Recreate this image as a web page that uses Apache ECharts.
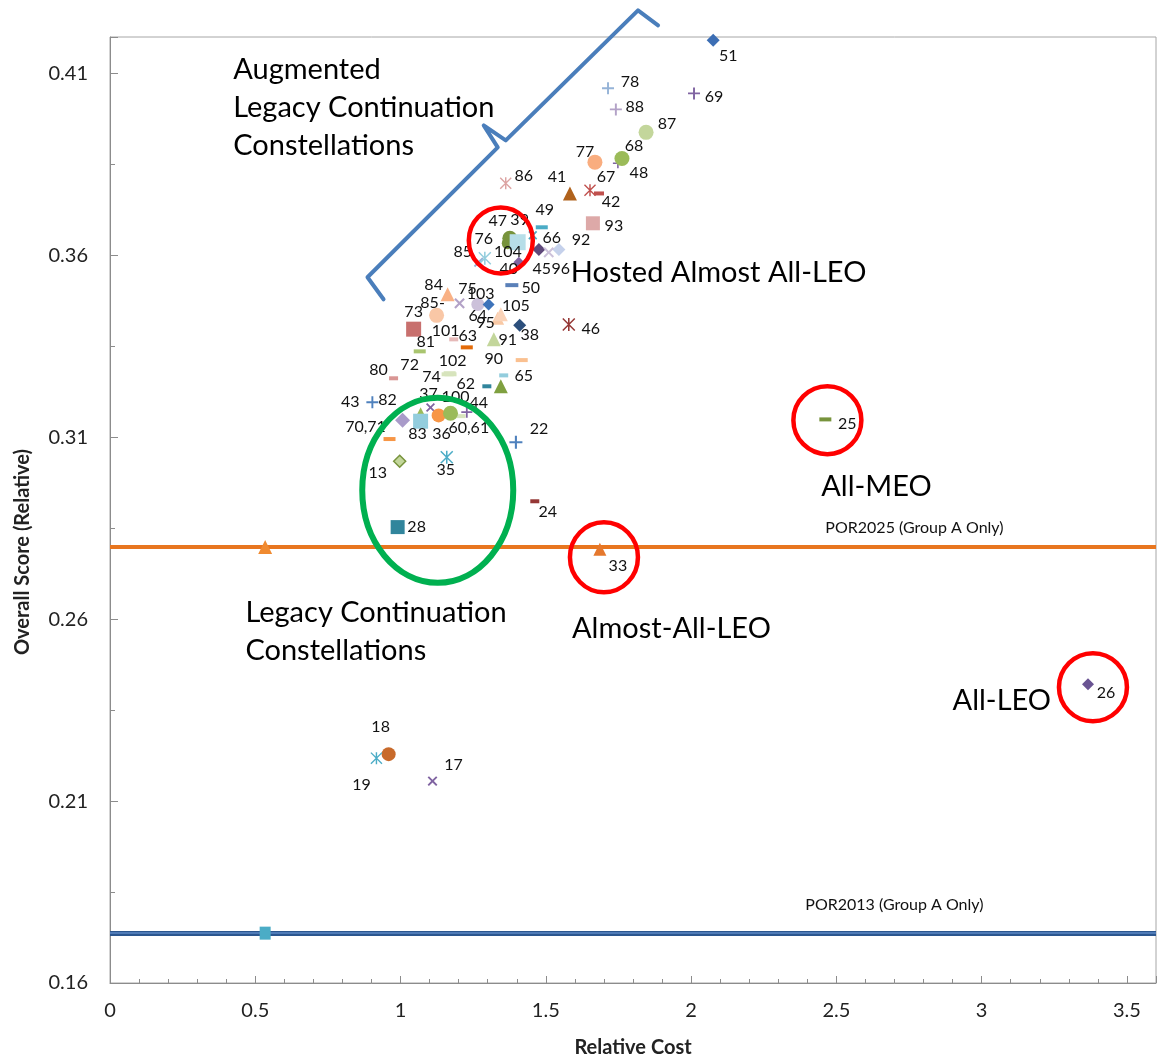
<!DOCTYPE html>
<html><head><meta charset="utf-8">
<script src="https://cdn.jsdelivr.net/npm/echarts@6/dist/echarts.min.js"></script>
<style>html,body{margin:0;padding:0;background:#fff}#c{width:1159px;height:1063px}</style>
</head><body><div id="c"></div>
<script>
// ---------------- DATA ----------------
const ids   = ['76','95','72','74','','','51','78','69','88','87','48','68','77','86','41','67','42','93','49','66','47','39','45','92','96','40','104','85','50','84','75','64','103','85-','73','105','38','101','63','91','81','46','90','80','102','65','62','44','43','82','37','83','36','100','60,61','70,71','22','13','35','24','28','25','33','26','18','19','17'];
const cost  = [1.369,1.334,1.162,1.172,1.069,1.203,2.076,1.714,2.010,1.741,1.845,1.748,1.762,1.669,1.362,1.583,1.652,1.683,1.662,1.486,1.455,1.376,1.403,1.476,1.545,1.510,1.269,1.407,1.290,1.383,1.162,1.203,1.266,1.303,1.124,1.045,1.345,1.410,1.183,1.228,1.321,1.066,1.579,1.417,0.976,1.169,1.355,1.297,1.345,0.903,1.007,1.103,1.069,1.131,1.172,1.228,0.962,1.397,0.997,1.159,1.462,0.990,2.462,1.686,3.366,0.959,0.917,1.110];
const score = [0.3633,0.3427,0.3273,0.3273,0.3169,0.3158,0.4191,0.4059,0.4045,0.4001,0.3938,0.3853,0.3866,0.3856,0.3798,0.3770,0.3779,0.3770,0.3688,0.3677,0.3655,0.3647,0.3636,0.3616,0.3616,0.3608,0.3581,0.3581,0.3592,0.3518,0.3493,0.3468,0.3465,0.3465,0.3435,0.3397,0.3438,0.3408,0.3369,0.3347,0.3369,0.3336,0.3410,0.3312,0.3262,0.3276,0.3270,0.3240,0.3240,0.3196,0.3147,0.3182,0.3144,0.3160,0.3166,0.3169,0.3095,0.3086,0.3034,0.3045,0.2924,0.2853,0.3149,0.2792,0.2421,0.2229,0.2218,0.2155];
const porNames = ['POR2025 (Group A Only)','POR2013 (Group A Only)'];
const porCost  = [0.534, 0.534];
const porScore = [0.2798, 0.1737];
const xTickLabels = ['0','0.5','1','1.5','2','2.5','3','3.5'];
const yTickLabels = ['0.16','0.21','0.26','0.31','0.36','0.41'];

// ---------------- STYLE (marker shape, colour, size, label offset) ----------------
const SYM = {
  plus: 'path://M4.2,0H5.8V4.2H10V5.8H5.8V10H4.2V5.8H0V4.2H4.2Z',
  ast: 'path://M4.4,0H5.6V10H4.4Z M0,0.8L0.8,0L10,9.2L9.2,10Z M10,0.8L0.8,10L0,9.2L9.2,0Z'
};
const mk = {
 '76':['circle','#77933C',12,[-24,-4]], '95':['triangle','#F9C9A5',13,[-12,5]],
 '72':['dash','#D7E4BD',12,[-38,-9]], '74':['dash','#D7E4BD',12,[-19,3]],
 '51':['diamond','#3C6EB4',13,[15,16]], '78':['plus','#95B3D7',12,[22,-6]],
 '69':['plus','#8064A2',12,[20,3]], '88':['plus','#B3A2C7',12,[19,-3]],
 '87':['circle','#C3D69B',15,[21,-8]], '48':['plus','#8064A2',10,[21,10]],
 '68':['circle','#9BBB59',15,[12,-13]], '77':['circle','#F9AD7F',15,[-10,-10]],
 '86':['ast','#DCA3A2',12,[18,-7]], '41':['triangle','#B0621C',14,[-13,-17]],
 '67':['ast','#C0504D',12,[16,-13]], '42':['dash','#C0504D',10,[12,8]],
 '93':['rect','#DDA9A8',14,[21,3]], '49':['dash','#4BACC6',12,[3,-17]],
 '66':['x','#4BACC6',11,[19,3]], '47':['circle','#77933C',15,[-12,-17]],
 '39':['rect','#B7DEE8',16,[2,-22]], '45':['diamond','#5F497A',13,[3,19]],
 '92':['diamond','#C5D1EB',13,[22,-10]], '96':['x','#CCC1DA',13,[12,16]],
 '40':['x','#95B3D7',12,[30,7]], '104':['diamond','#8064A2',11,[-11,-10]],
 '85':['ast','#93CDDD',13,[-22,-6]], '50':['dash','#5A80B8',13,[19,3]],
 '84':['triangle','#F9B185',14,[-14,-9]], '75':['x','#B3A2C7',13,[8,-14]],
 '64':['circle','#CCC1DA',13,[0,11]], '103':['diamond','#3D73BA',12,[-8,-11]],
 '85-':['circle','#F9C7A6',15,[-4,-12]], '73':['rect','#C8706E',15,[0,-17]],
 '105':['triangle','#FAD3B8',14,[15,-8]], '38':['diamond','#2C4F7C',13,[10,10]],
 '101':['dash','#E6B9B8',9,[-8,-9]], '63':['dash','#E46C0A',12,[1,-12]],
 '91':['triangle','#C3D69B',14,[14,0]], '81':['dash','#A9C56F',12,[6,-10]],
 '46':['ast','#953735',13,[22,4]], '90':['dash','#FAC090',12,[-28,-1]],
 '80':['dash','#D99694',9,[-15,-8]], '102':['dash','#D7E4BD',12,[3,-12]],
 '65':['dash','#93CDDD',9,[20,0]], '62':['dash','#31859C',9,[-21,-2]],
 '44':['triangle','#7FA040',14,[-22,17]], '43':['plus','#4F81BD',12,[-22,0]],
 '82':['diamond','#A99BC9',15,[-15,-20]], '37':['x','#8064A2',11,[-2,-14]],
 '83':['rect','#93CDDD',15,[-3,13]], '36':['circle','#F79646',14,[3,18]],
 '100':['circle','#9BBB59',15,[5,-16]], '60,61':['plus','#8064A2',11,[2,16]],
 '70,71':['dash','#F79646',12,[-24,-12]], '22':['plus','#4F81BD',13,[23,-13]],
 '13':['diamond','#C3D69B',12,[-22,12],'#77933C'], '35':['ast','#4BACC6',13,[-1,13]],
 '24':['dash','#953735',9,[13,11]], '28':['rect','#31859C',14,[19,0]],
 '25':['dash','#77933C',12,[22,4]], '33':['triangle','#E5782D',13,[18,17]],
 '26':['diamond','#6A5493',12,[18,9]], '18':['circle','#C86A2B',14,[-8,-27]],
 '19':['ast','#4BACC6',12,[-15,27]], '17':['x','#8064A2',12,[21,-16]]
};
const unlabeled = [['triangle','#9BBB59',10],['dash','#D7E4BD',12]];

const FONT = 'Lato, "Open Sans", sans-serif';
let blank = 0;
const points = ids.map((id, i) => {
  let s = mk[id];
  if (id === '') { s = unlabeled[blank++].concat([[0,0]]); }
  const [shape, color, size, off, border] = s;
  let symbol = shape, symbolSize = size, rot = 0;
  if (shape === 'plus') symbol = SYM.plus;
  if (shape === 'x') { symbol = SYM.plus; rot = 45; }
  if (shape === 'ast') symbol = SYM.ast;
  if (shape === 'dash') { symbol = 'rect'; symbolSize = [size, 4]; }
  return {
    name: id, value: [cost[i], score[i]], symbol, symbolSize, symbolRotate: rot,
    itemStyle: { color, opacity: 1, borderColor: border || color, borderWidth: border ? 1.5 : 0 },
    label: { show: id !== '', offset: off }
  };
});

const axisGrey = '#8C8C8C';
const option = {
  animation: false,
  backgroundColor: '#fff',
  grid: { left: 110, right: 2, top: 37, bottom: 80, show: true, borderColor: '#A6A6A6', borderWidth: 1 },
  xAxis: [
    { type: 'value', min: 0, max: 3.6, interval: 0.5, position: 'bottom',
      axisLine: { lineStyle: { color: axisGrey } },
      axisTick: { inside: true, length: 7, lineStyle: { color: axisGrey } },
      splitLine: { show: false },
      axisLabel: { margin: 18, color: '#222', fontSize: 20, fontFamily: FONT,
        formatter: v => { const s = String(+v.toFixed(2)); return xTickLabels.includes(s) ? s : ''; } },
      name: 'Relative Cost', nameLocation: 'middle', nameGap: 55,
      nameTextStyle: { fontSize: 20, fontWeight: 'bold', color: '#222', fontFamily: FONT } },
    { type: 'value', min: 0, max: 3.6, interval: 0.1, position: 'bottom', offset: 0,
      axisLine: { show: false }, axisLabel: { show: false }, splitLine: { show: false },
      axisTick: { inside: true, length: 4, lineStyle: { color: axisGrey } } }
  ],
  yAxis: [
    { type: 'value', min: 0.16, max: 0.42, interval: 0.05, position: 'left',
      axisLine: { show: true, lineStyle: { color: axisGrey } },
      axisTick: { show: true, inside: true, length: 8, lineStyle: { color: axisGrey } },
      splitLine: { show: false },
      axisLabel: { margin: 22, color: '#222', fontSize: 20, fontFamily: FONT,
        formatter: v => { const s = v.toFixed(2); return yTickLabels.includes(s) ? s : ''; } } },
    { type: 'value', min: 0.16, max: 0.42, interval: 0.025, position: 'left', offset: 0,
      axisLine: { show: false }, axisLabel: { show: false }, splitLine: { show: false },
      axisTick: { show: true, inside: true, length: 5, lineStyle: { color: axisGrey } } }
  ],
  series: [
    { type: 'scatter', name: porNames[0], xAxisIndex: 0, yAxisIndex: 0, z: 3,
      data: [[porCost[0], porScore[0]]], symbol: 'triangle', symbolSize: 14,
      itemStyle: { color: '#F08A30', opacity: 1 },
      markLine: { silent: true, precision: 6, symbol: ['none','none'], label: { show: false }, z: 2,
        lineStyle: { color: '#E8761F', width: 4, type: 'solid' },
        data: [{ yAxis: porScore[0] }] } },
    { type: 'scatter', name: porNames[1], xAxisIndex: 0, yAxisIndex: 0, z: 3,
      data: [[porCost[1], porScore[1]]], symbol: 'rect', symbolSize: [11, 13],
      itemStyle: { color: '#4BACC6', opacity: 1 },
      markLine: { silent: true, precision: 6, symbol: ['none','none'], label: { show: false }, z: 2,
        data: [
          { yAxis: porScore[1], lineStyle: { color: '#2B568F', width: 5, type: 'solid' } },
          { yAxis: porScore[1], lineStyle: { color: '#5C89C4', width: 1.5, type: 'solid' } }
        ] } },
    { type: 'scatter', name: 'Constellations', xAxisIndex: 0, yAxisIndex: 0, z: 4,
      data: points,
      label: { show: true, position: 'inside', formatter: '{b}', color: '#111', fontSize: 16, fontFamily: FONT },
      emphasis: { disabled: true } }
  ]
};

const chart = echarts.init(document.getElementById('c'), null, { renderer: 'canvas' });
chart.setOption(option);

// ---------------- ANNOTATIONS (anchored in data coordinates) ----------------
const toPx = p => chart.convertToPixel({ xAxisIndex: 0, yAxisIndex: 0 }, p);
const notes = [
  { text: 'Augmented\nLegacy Continuation\nConstellations', at: [0.424, 0.4163], va: 'top' },
  { text: 'Hosted Almost All-LEO', at: [1.586, 0.3551], va: 'middle' },
  { text: 'All-MEO', at: [2.448, 0.2963], va: 'middle' },
  { text: 'Almost-All-LEO', at: [1.590, 0.2575], va: 'middle' },
  { text: 'All-LEO', at: [2.900, 0.2377], va: 'middle' },
  { text: 'Legacy Continuation\nConstellations', at: [0.466, 0.2669], va: 'top' }
];
const porLabelAt = [[2.462, 0.2850], [2.393, 0.1814]];
const redRings = [
  { at: [1.345, 0.3641], r: [32, 33] },
  { at: [2.469, 0.3147], r: [34, 34] },
  { at: [1.700, 0.2770], r: [34, 35] },
  { at: [3.383, 0.2413], r: [34, 34] }
];
const greenRing = { at: [1.128, 0.2954], r: [75.5, 92.5] };
const brace = [[0.9414,0.34791],[0.8862,0.35396],[1.3345,0.38967],[1.2862,0.39571],[1.3621,0.39159],[1.8172,0.42731],[1.8862,0.42319]];

const g = [];
notes.forEach(n => {
  const p = toPx(n.at);
  g.push({ type: 'text', z: 20, x: p[0], y: p[1],
    style: { text: n.text, fill: '#000', font: '29px ' + FONT, lineHeight: 38,
      textAlign: 'left', textVerticalAlign: n.va } });
});
porNames.forEach((t, i) => {
  const p = toPx(porLabelAt[i]);
  g.push({ type: 'text', z: 20, x: p[0], y: p[1],
    style: { text: t, fill: '#111', font: '16px ' + FONT, textAlign: 'left', textVerticalAlign: 'middle' } });
});
redRings.forEach(c => {
  const p = toPx(c.at);
  g.push({ type: 'ellipse', z: 30, shape: { cx: p[0], cy: p[1], rx: c.r[0], ry: c.r[1] },
    style: { fill: 'none', stroke: '#FF0000', lineWidth: 4.5 } });
});
{
  const p = toPx(greenRing.at);
  g.push({ type: 'ellipse', z: 30, shape: { cx: p[0], cy: p[1], rx: greenRing.r[0], ry: greenRing.r[1] },
    style: { fill: 'none', stroke: '#00B050', lineWidth: 6 } });
}
g.push({ type: 'polyline', z: 30, shape: { points: brace.map(toPx) },
  style: { fill: 'none', stroke: '#4A7EBB', lineWidth: 4, lineJoin: 'round', lineCap: 'round' } });
g.push({ type: 'text', z: 20, x: 23, y: 552, rotation: Math.PI / 2,
  style: { text: 'Overall Score (Relative)', fill: '#222', font: 'bold 20px ' + FONT,
    textAlign: 'center', textVerticalAlign: 'middle' } });
chart.setOption({ graphic: g });
</script></body></html>
